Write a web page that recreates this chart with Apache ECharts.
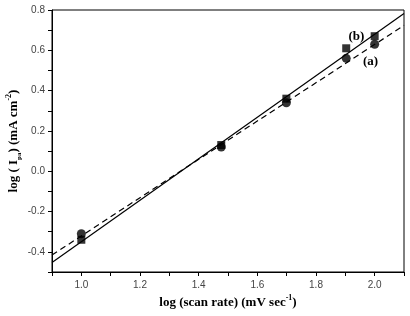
<!DOCTYPE html>
<html>
<head>
<meta charset="utf-8">
<script src="https://cdn.jsdelivr.net/npm/echarts@6/dist/echarts.min.js"></script>
<style>
  html, body { margin: 0; padding: 0; background: #fff; }
  #chart { width: 410px; height: 316px; }
</style>
</head>
<body>
<div id="chart"></div>
<script>
// log(scan rate) values
const logScanRate = [1.0, 1.477, 1.699, 1.903, 2.0];
// (a) circles, (b) squares
const seriesA = [-0.31, 0.12, 0.34, 0.56, 0.63];
const seriesB = [-0.34, 0.13, 0.36, 0.61, 0.67];
const fitAx = [0.9, 2.1];
const fitAy = [-0.416, 0.724];
const fitBx = [0.9, 2.1];
const fitBy = [-0.453, 0.783];

const chart = echarts.init(document.getElementById('chart'));

const evenTenth = (v) => {
    const t = Math.round(v * 10);
    return t % 2 === 0 ? (t / 10).toFixed(1) : '';
};

const serif = 'Liberation Serif';
const sans = 'Arial, Liberation Sans, sans-serif';

const nameRich = {
    b: { fontFamily: serif, fontWeight: 'bold', fontSize: 13, color: '#000', lineHeight: 18, verticalAlign: 'middle' },
    sup: { fontFamily: serif, fontWeight: 'bold', fontSize: 8, color: '#000', lineHeight: 10, verticalAlign: 'top' },
    sub: { fontFamily: serif, fontWeight: 'bold', fontSize: 7, color: '#000', lineHeight: 9, verticalAlign: 'bottom' },
};

chart.setOption({
    animation: false,
    textStyle: { fontFamily: sans },
    grid: {
        left: 52,
        right: 6,
        top: 10,
        bottom: 44,
        outerBoundsMode: 'none',
        containLabel: false,
        show: true,
        borderColor: '#000',
        borderWidth: 1,
    },
    xAxis: {
        type: 'value',
        min: 0.9,
        max: 2.1,
        interval: 0.1,
        axisLine: { onZero: false, lineStyle: { color: '#000', width: 1 } },
        axisTick: { length: 4, lineStyle: { color: '#000' } },
        splitLine: { show: false },
        axisLabel: {
            formatter: evenTenth,
            color: '#444',
            fontSize: 10,
            fontFamily: sans,
            margin: 8,
        },
        name: '{b|log (scan rate) (mV sec}{sup|-1}{b|)}',
        nameLocation: 'middle',
        nameGap: 22,
        nameMoveOverlap: false,
        nameTextStyle: { rich: nameRich },
    },
    yAxis: {
        type: 'value',
        min: -0.5,
        max: 0.8,
        interval: 0.1,
        axisLine: { onZero: false, lineStyle: { color: '#000', width: 1 } },
        axisTick: { length: 4, lineStyle: { color: '#000' } },
        splitLine: { show: false },
        axisLabel: {
            formatter: evenTenth,
            color: '#444',
            fontSize: 10,
            fontFamily: sans,
            margin: 7,
        },
        name: '{b|log ( I}{sub|pa}{b|) (mA cm}{sup|-2}{b|)}',
        nameLocation: 'middle',
        nameGap: 29,
        nameMoveOverlap: false,
        nameTextStyle: { rich: nameRich },
    },
    series: [
        {
            name: '(a) fit',
            type: 'line',
            data: fitAx.map((x, i) => [x, fitAy[i]]),
            symbol: 'none',
            lineStyle: { color: '#000', width: 1.2, type: [6, 4] },
            z: 2,
        },
        {
            name: '(b) fit',
            type: 'line',
            data: fitBx.map((x, i) => [x, fitBy[i]]),
            symbol: 'none',
            lineStyle: { color: '#000', width: 1.2 },
            z: 2,
        },
        {
            name: '(b)',
            type: 'scatter',
            data: logScanRate.map((x, i) => [x, seriesB[i]]),
            symbol: 'rect',
            symbolSize: 8,
            itemStyle: { color: '#000' },
            z: 3,
            markPoint: {
                symbol: 'circle',
                symbolSize: 0,
                data: [{ coord: [1.938, 0.666] }],
                label: {
                    show: true,
                    formatter: '(b)',
                    fontFamily: serif,
                    fontWeight: 'bold',
                    fontSize: 13,
                    color: '#000',
                },
            },
        },
        {
            name: '(a)',
            type: 'scatter',
            data: logScanRate.map((x, i) => [x, seriesA[i]]),
            symbol: 'circle',
            symbolSize: 9,
            itemStyle: { color: '#000' },
            z: 3,
            markPoint: {
                symbol: 'circle',
                symbolSize: 0,
                data: [{ coord: [1.986, 0.542] }],
                label: {
                    show: true,
                    formatter: '(a)',
                    fontFamily: serif,
                    fontWeight: 'bold',
                    fontSize: 13,
                    color: '#000',
                },
            },
        },
    ],
});
</script>
</body>
</html>
